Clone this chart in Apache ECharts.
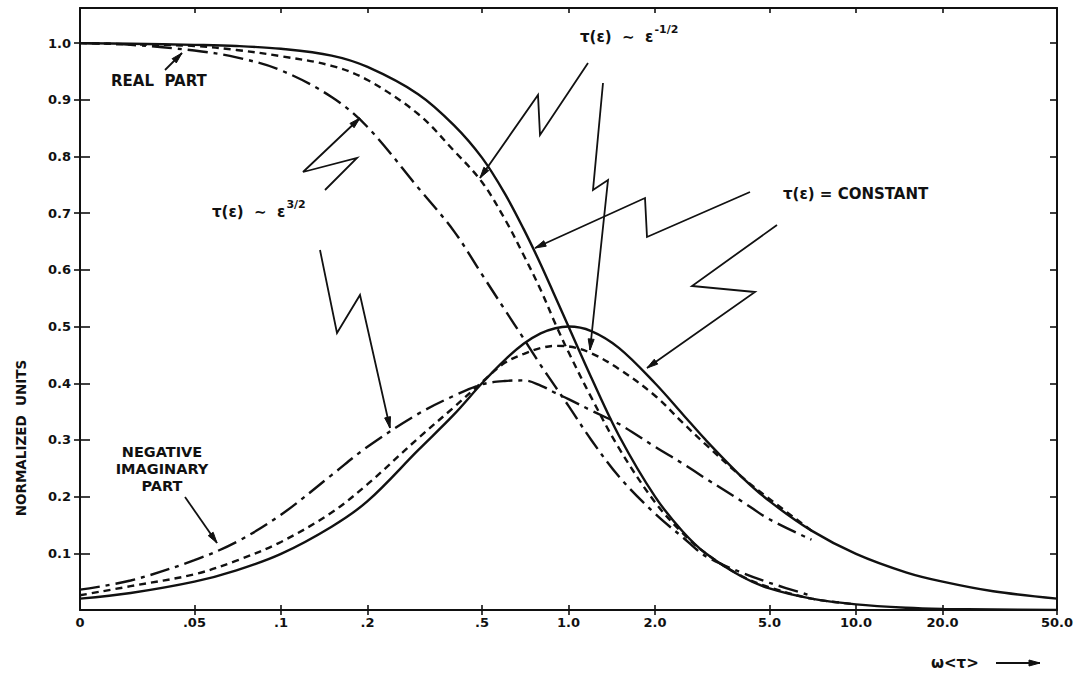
<!DOCTYPE html>
<html>
<head>
<meta charset="utf-8">
<script src="https://cdn.jsdelivr.net/npm/echarts@6/dist/echarts.min.js"></script>
<style>
  html, body { margin: 0; padding: 0; background: #ffffff; }
  #chart { width: 1077px; height: 684px; }
</style>
</head>
<body>
<div id="chart"></div>
<script>
// Frequency grid  ω<τ>
const omega = [0.02, 0.03, 0.05, 0.07, 0.1, 0.15, 0.2, 0.3, 0.4, 0.5, 0.6, 0.7, 0.8, 0.9,
               1.0, 1.2, 1.5, 2, 2.5, 3, 4, 5, 7, 10, 15, 20, 30, 50];

// τ(ε) = constant
const realConst = [1.000, 0.999, 0.997, 0.995, 0.990, 0.978, 0.958, 0.910, 0.855, 0.798, 0.735, 0.671, 0.610, 0.552,
                   0.500, 0.410, 0.307, 0.200, 0.138, 0.100, 0.059, 0.038, 0.020, 0.010, 0.004, 0.002, 0.001, 0.000];
const imagConst = [0.020, 0.030, 0.050, 0.070, 0.099, 0.147, 0.192, 0.282, 0.345, 0.400, 0.441, 0.470, 0.488, 0.497,
                   0.500, 0.492, 0.462, 0.400, 0.345, 0.300, 0.235, 0.192, 0.140, 0.099, 0.066, 0.050, 0.033, 0.020];

// τ(ε) ~ ε^-1/2
const realInvSqrt = [1.000, 0.998, 0.995, 0.988, 0.977, 0.960, 0.935, 0.875, 0.810, 0.755, 0.690, 0.625, 0.565, 0.505,
                     0.455, 0.375, 0.285, 0.190, 0.135, 0.100, 0.060, 0.040, 0.020, 0.010];
const imagInvSqrt = [0.026, 0.042, 0.063, 0.087, 0.120, 0.172, 0.222, 0.303, 0.358, 0.402, 0.436, 0.452, 0.462, 0.466,
                     0.465, 0.453, 0.425, 0.378, 0.330, 0.292, 0.235, 0.196, 0.140];

// τ(ε) ~ ε^3/2
const realThreeHalves = [1.000, 0.997, 0.987, 0.975, 0.952, 0.905, 0.852, 0.745, 0.668, 0.592, 0.530, 0.478, 0.432, 0.394,
                         0.360, 0.300, 0.235, 0.170, 0.128, 0.095, 0.066, 0.048, 0.025];
const imagThreeHalves = [0.036, 0.052, 0.088, 0.120, 0.168, 0.238, 0.288, 0.346, 0.378, 0.398, 0.404, 0.405, 0.396, 0.383,
                         0.372, 0.352, 0.328, 0.288, 0.258, 0.232, 0.192, 0.160, 0.124];

// Axis ticks
const tickOmega = [0.02, 0.05, 0.1, 0.2, 0.5, 1, 2, 5, 10, 20, 50];
const tickLabelsX = ['0', '.05', '.1', '.2', '.5', '1.0', '2.0', '5.0', '10.0', '20.0', '50.0'];
const tickY = [0.1, 0.2, 0.3, 0.4, 0.5, 0.6, 0.7, 0.8, 0.9, 1.0];
const tickLabelsY = ['0.1', '0.2', '0.3', '0.4', '0.5', '0.6', '0.7', '0.8', '0.9', '1.0'];

const INK = '#111111';
const FONT = 'DejaVu Sans';

const lg = Math.log10;
const tickX = tickOmega.map(lg);

function toPairs(vals) {
  return vals.map((v, i) => [lg(omega[i]), v]);
}
function nearestLabel(values, labels, v) {
  let best = 0;
  for (let i = 1; i < values.length; i++) {
    if (Math.abs(values[i] - v) < Math.abs(values[best] - v)) best = i;
  }
  return labels[best];
}

const chart = echarts.init(document.getElementById('chart'), null, { renderer: 'svg' });

const xBase = {
  type: 'value', min: lg(0.02), max: lg(50), gridIndex: 0,
  splitLine: { show: false }
};
const yBase = {
  type: 'value', min: 0, max: 1.062, gridIndex: 0,
  splitLine: { show: false }
};

function lineSeries(name, vals, dash) {
  return {
    name, type: 'line', xAxisIndex: 0, yAxisIndex: 0,
    data: toPairs(vals), smooth: 0.35, symbol: 'none',
    lineStyle: { color: INK, width: 2.4, type: dash || 'solid', cap: 'butt' },
    z: 5, silent: true
  };
}

// Leader lines with arrowheads, in screen pixels
const leaders = [
  { pts: [[165, 70], [182, 53]] },                                   // REAL PART
  { pts: [[185, 497], [217, 543]] },                                 // NEGATIVE IMAGINARY PART
  { pts: [[325, 190], [357, 158], [303, 172], [360, 118]] },         // ε^3/2 -> real
  { pts: [[320, 250], [337, 333], [360, 295], [390, 428]] },         // ε^3/2 -> imaginary
  { pts: [[588, 63], [540, 135], [538, 95], [480, 178]] },           // ε^-1/2 -> real
  { pts: [[603, 83], [593, 190], [608, 180], [590, 350]] },          // ε^-1/2 -> imaginary
  { pts: [[750, 192], [647, 237], [645, 198], [535, 248]] },         // constant -> real
  { pts: [[777, 225], [692, 286], [755, 292], [647, 368]] },         // constant -> imaginary
  { pts: [[996, 663], [1040, 663]] }                                 // axis arrow
];

function arrowHead(p, t, len, wid) {
  const dx = t[0] - p[0], dy = t[1] - p[1];
  const d = Math.hypot(dx, dy);
  const ux = dx / d, uy = dy / d;
  const bx = t[0] - ux * len, by = t[1] - uy * len;
  const px = -uy * wid / 2, py = ux * wid / 2;
  return [[t[0], t[1]], [bx + px, by + py], [bx - px, by - py]];
}

const graphics = [];
leaders.forEach(l => {
  graphics.push({
    type: 'polyline', shape: { points: l.pts }, silent: true, z: 50,
    style: { stroke: INK, lineWidth: 1.8, fill: null, lineJoin: 'miter' }
  });
  const n = l.pts.length;
  graphics.push({
    type: 'polygon', shape: { points: arrowHead(l.pts[n - 2], l.pts[n - 1], 11, 6) }, silent: true, z: 51,
    style: { fill: INK, stroke: INK, lineWidth: 1 }
  });
});

function fontOf(size) { return 'bold ' + size + 'px "' + FONT + '"'; }

const measureCtx = document.createElement('canvas').getContext('2d');
function textWidth(text, size) {
  measureCtx.font = fontOf(size);
  return measureCtx.measureText(text).width;
}

function label(text, x, y, size, opts) {
  return Object.assign({
    type: 'text', x, y, silent: true, z: 60,
    style: Object.assign({
      text, fill: INK, font: fontOf(size),
      align: 'left', verticalAlign: 'middle'
    }, (opts && opts.style) || {})
  }, (opts && opts.el) || {});
}

// Label with a raised exponent placed right after the base text
function powerLabel(base, exp, x, y, size, expSize) {
  const w = textWidth(base, size);
  return [label(base, x, y, size), label(exp, x + w + 1, y - 8, expSize)];
}

graphics.push(
  label('REAL  PART', 111, 81, 15),
  label('NEGATIVE', 162, 452, 14.5, { style: { align: 'center' } }),
  label('IMAGINARY', 162, 469, 14.5, { style: { align: 'center' } }),
  label('PART', 162, 486, 14.5, { style: { align: 'center' } }),
  ...powerLabel('τ(ε)  ∼  ε', '3/2', 212, 212, 15, 11),
  ...powerLabel('τ(ε)  ∼  ε', '-1/2', 580, 37, 15, 11),
  label('τ(ε) = CONSTANT', 783, 194, 15),
  label('ω<τ>', 931, 663, 15),
  label('NORMALIZED  UNITS', 21, 438, 13.5, { style: { align: 'center' }, el: { rotation: Math.PI / 2 } })
);

const noZero = { onZero: false };

chart.setOption({
  animation: false,
  backgroundColor: '#ffffff',
  grid: { left: 80, right: 20, top: 8, bottom: 74, containLabel: false },
  xAxis: [
    Object.assign({}, xBase, {
      position: 'bottom',
      axisLine: Object.assign({ show: true, lineStyle: { color: INK, width: 2 } }, noZero),
      axisTick: { show: true, customValues: tickX.slice(1), length: 5, inside: false,
                  lineStyle: { color: INK, width: 1.6 } },
      axisLabel: { show: true, customValues: tickX, margin: 6, color: INK,
                   fontFamily: FONT, fontWeight: 'bold', fontSize: 13,
                   formatter: v => nearestLabel(tickX, tickLabelsX, v) }
    }),
    Object.assign({}, xBase, {
      position: 'bottom',
      axisLine: Object.assign({ show: false }, noZero),
      axisTick: { show: true, customValues: tickX.slice(1), length: 5, inside: true,
                  lineStyle: { color: INK, width: 1.6 } },
      axisLabel: { show: false }
    }),
    Object.assign({}, xBase, {
      position: 'top',
      axisLine: Object.assign({ show: true, lineStyle: { color: INK, width: 2 } }, noZero),
      axisTick: { show: true, customValues: tickX.slice(1, -1), length: 5, inside: true,
                  lineStyle: { color: INK, width: 1.6 } },
      axisLabel: { show: false }
    })
  ],
  yAxis: [
    Object.assign({}, yBase, {
      position: 'left',
      axisLine: Object.assign({ show: true, lineStyle: { color: INK, width: 2 } }, noZero),
      axisTick: { show: true, customValues: tickY, length: 6, inside: false,
                  lineStyle: { color: INK, width: 1.6 } },
      axisLabel: { show: true, customValues: tickY, margin: 9, color: INK,
                   fontFamily: FONT, fontWeight: 'bold', fontSize: 13,
                   formatter: v => nearestLabel(tickY, tickLabelsY, v) }
    }),
    Object.assign({}, yBase, {
      position: 'left',
      axisLine: Object.assign({ show: false }, noZero),
      axisTick: { show: true, customValues: tickY, length: 10, inside: true,
                  lineStyle: { color: INK, width: 1.6 } },
      axisLabel: { show: false }
    }),
    Object.assign({}, yBase, {
      position: 'right',
      axisLine: Object.assign({ show: true, lineStyle: { color: INK, width: 2 } }, noZero),
      axisTick: { show: true, customValues: tickY, length: 7, inside: true,
                  lineStyle: { color: INK, width: 1.6 } },
      axisLabel: { show: false }
    })
  ],
  series: [
    lineSeries('Real, τ constant', realConst),
    lineSeries('Imaginary, τ constant', imagConst),
    lineSeries('Real, τ ~ ε^-1/2', realInvSqrt, [7, 5]),
    lineSeries('Imaginary, τ ~ ε^-1/2', imagInvSqrt, [7, 5]),
    lineSeries('Real, τ ~ ε^3/2', realThreeHalves, [20, 6, 4, 6]),
    lineSeries('Imaginary, τ ~ ε^3/2', imagThreeHalves, [20, 6, 4, 6])
  ],
  graphic: { elements: graphics }
});
</script>
</body>
</html>
